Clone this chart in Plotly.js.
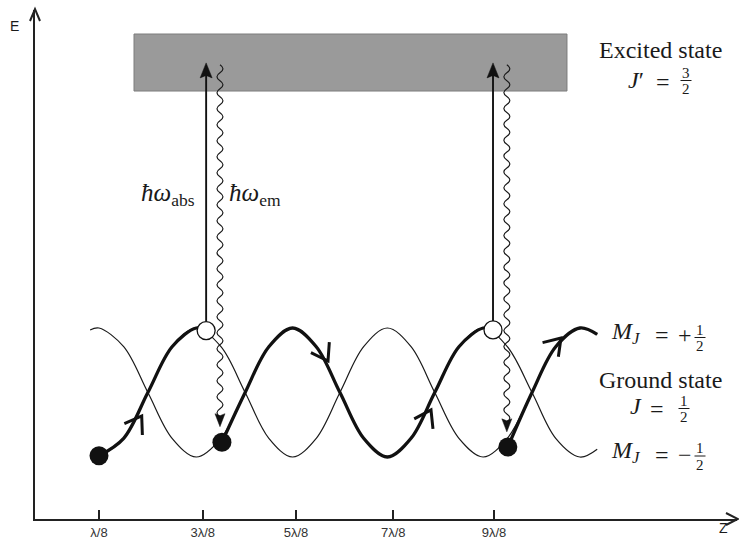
<!DOCTYPE html>
<html><head><meta charset="utf-8">
<script src="https://cdn.plot.ly/plotly-3.0.1.min.js"></script>
<style>html,body{margin:0;padding:0;background:#fff}</style>
</head><body><div id="chart" style="width:739px;height:541px"></div>
<script>
// ---- data (z in units of λ/8, energy in units of the light-shift amplitude) ----
const curveZ  = [0.82, 1.0, 1.5, 1.99, 2.48, 2.97, 3.47, 3.96, 4.44, 4.92, 5.4, 5.88, 6.36, 6.84, 7.32, 7.8, 8.29, 8.78, 9.27, 9.77, 10.25, 10.74, 11.09];
const plusE   = [null, -1, -0.71, 0, 0.71, 1, 0.71, 0, -0.71, -1, -0.71, 0, 0.71, 1, 0.71, 0, -0.71, -1, -0.71, 0, 0.71, 1, 0.9];
const minusE  = [0.97, 1, 0.71, 0, -0.71, -1, -0.71, 0, 0.71, 1, 0.71, 0, -0.71, -1, -0.71, 0, 0.71, 1, 0.71, 0, -0.71, -1, -0.88];
const groundDotZ = [1.0, 3.49, 9.28];
const groundDotE = [-0.98, -0.77, -0.845];
const pumpZ = [3.17, 8.98];
const pumpE = [0.96, 0.97];
const absTopE = 5.11;
const emZ = [3.45, 9.26];
const emTopE = 5.08;
const emTipE = [-0.53, -0.61];
const chevZ = [1.865, 5.638, 7.724, 10.357];
const chevE = [-0.364, 0.488, -0.271, 0.845];
const chevAngle = [58, -60, 62, 48];
const bandZ = [1.709, 10.478];
const bandE = [4.674, 5.558];
const tickZ = [1.0, 3.1, 4.99, 6.96, 9.0];
const tickText = ['λ/8', '3λ/8', '5λ/8', '7λ/8', '9λ/8'];

// ---- geometry of the plot area ----
const L = 35, T = 10, W = 702, H = 509;
const xRange = [-0.2962, 13.9215];
const yRange = [-1.9612, 5.9302];
const pxPerZ = W / (xRange[1] - xRange[0]);
const pxPerE = H / (yRange[1] - yRange[0]);
const dz = p => p / pxPerZ;
const dE = p => p / pxPerE;
const pX = x => (x - L) / W;
const pY = y => (T + H - y) / H;

function pts(E) {
  const z = [], e = [];
  curveZ.forEach((v, i) => { if (E[i] !== null) { z.push(v); e.push(E[i]); } });
  return {z, e};
}
function segment(E, z0, e0, z1, e1, includeEnd) {
  const z = [z0], e = [e0];
  curveZ.forEach((v, i) => {
    if (E[i] !== null && v > z0 && (v < z1 || (includeEnd && v <= z1))) { z.push(v); e.push(E[i]); }
  });
  if (!includeEnd) { z.push(z1); e.push(e1); }
  return {z, e};
}

const thinP = pts(plusE), thinM = pts(minusE);
const seg1 = segment(plusE, groundDotZ[0], groundDotE[0], pumpZ[0], pumpE[0], false);
const seg2 = segment(minusE, groundDotZ[1], groundDotE[1], pumpZ[1], pumpE[1], false);
const seg3 = segment(plusE, groundDotZ[2], groundDotE[2], curveZ[curveZ.length - 1], null, true);

// chevron arrow tips along the thick path
const chevX = [], chevY = [];
chevZ.forEach((z, i) => {
  const back = (chevAngle[i] + 180) * Math.PI / 180, spread = 34 * Math.PI / 180, len = 19;
  chevX.push(z + dz(len * Math.cos(back + spread)), z, z + dz(len * Math.cos(back - spread)), null);
  chevY.push(chevE[i] + dE(len * Math.sin(back + spread)), chevE[i], chevE[i] + dE(len * Math.sin(back - spread)), null);
});

// absorption lines (from top of open circle up to the arrow head)
const absX = [], absY = [];
pumpZ.forEach((z, i) => { absX.push(z, z, null); absY.push(pumpE[i] + dE(9), absTopE - dE(11), null); });

const thin = {width: 1.2, color: '#1a1a1a', shape: 'spline', smoothing: 1};
const thick = {width: 3.3, color: '#111', shape: 'spline', smoothing: 1};
const traces = [
  {x: thinP.z, y: thinP.e, mode: 'lines', line: thin},
  {x: thinM.z, y: thinM.e, mode: 'lines', line: thin},
  {x: seg1.z, y: seg1.e, mode: 'lines', line: thick},
  {x: seg2.z, y: seg2.e, mode: 'lines', line: thick},
  {x: seg3.z, y: seg3.e, mode: 'lines', line: thick},
  {x: chevX, y: chevY, mode: 'lines', line: {width: 3, color: '#111'}, connectgaps: false},
  {x: absX, y: absY, mode: 'lines', line: {width: 1.9, color: '#111'}, connectgaps: false},
  {x: groundDotZ, y: groundDotE, mode: 'markers', marker: {size: 19, color: '#111', line: {width: 0}}},
  {x: pumpZ, y: pumpE, mode: 'markers', marker: {size: 18, color: '#fff', line: {width: 1.3, color: '#111'}}}
];

// wavy emission lines
function wavyPath(z, eTop, eEnd) {
  const halfWave = dE(8);
  const ctrl = dz(6);
  const n = Math.max(1, Math.round((eTop - eEnd) / halfWave));
  const step = (eTop - eEnd) / n;
  let d = 'M' + z + ',' + eTop;
  for (let i = 0; i < n; i++) {
    const s = i % 2 === 0 ? 1 : -1;
    const e0 = eTop - i * step;
    d += ' Q' + (z + s * ctrl) + ',' + (e0 - step / 2) + ' ' + z + ',' + (e0 - step);
  }
  return d;
}
// filled arrow head: tip at (z,e), dir = +1 up, -1 down; sizes in px
function head(z, e, dir, w, len, notch) {
  return 'M' + z + ',' + e +
    ' L' + (z - dz(w / 2)) + ',' + (e - dir * dE(len)) +
    ' L' + z + ',' + (e - dir * dE(len - notch)) +
    ' L' + (z + dz(w / 2)) + ',' + (e - dir * dE(len)) + ' Z';
}
const shapes = [
  {type: 'rect', xref: 'x', yref: 'y', x0: bandZ[0], x1: bandZ[1], y0: bandE[0], y1: bandE[1],
   fillcolor: '#9a9a9a', line: {color: '#7c7c7c', width: 1}, layer: 'below'}
];
emZ.forEach((z, i) => {
  shapes.push({type: 'path', xref: 'x', yref: 'y', path: wavyPath(z, emTopE, emTipE[i] + dE(10)),
    line: {color: '#1a1a1a', width: 1.2}, layer: 'above'});
  shapes.push({type: 'path', xref: 'x', yref: 'y', path: head(z, emTipE[i], -1, 10, 13, 2),
    fillcolor: '#111', line: {color: '#111', width: 0.5}, layer: 'above'});
});
pumpZ.forEach(z => shapes.push({type: 'path', xref: 'x', yref: 'y', path: head(z, absTopE, 1, 12, 15, 2.5),
  fillcolor: '#111', line: {color: '#111', width: 0.5}, layer: 'above'}));
// axis arrow heads (open chevrons)
shapes.push({type: 'path', xref: 'paper', yref: 'paper',
  path: 'M' + pX(30) + ',' + pY(21) + ' L' + pX(35) + ',' + pY(9) + ' L' + pX(40) + ',' + pY(21),
  line: {color: '#222', width: 2}});
shapes.push({type: 'path', xref: 'paper', yref: 'paper',
  path: 'M' + pX(726) + ',' + pY(513) + ' L' + pX(738) + ',' + pY(519) + ' L' + pX(726) + ',' + pY(525),
  line: {color: '#222', width: 2}});

const annotations = [];
const serif = 'Liberation Serif, Times New Roman, serif';
const sans = 'Liberation Sans, Arial, sans-serif';
function label(text, x, y, size, xanchor, family) {
  annotations.push({xref: 'paper', yref: 'paper', x: pX(x), y: pY(y), text: text, showarrow: false,
    xanchor: xanchor || 'center', yanchor: 'middle', font: {family: family || serif, size: size, color: '#1a1a1a'}});
}
function frac(num, den, x, yBar) {
  label(num, x, yBar - 8, 15);
  label(den, x, yBar + 8.5, 15);
  shapes.push({type: 'line', xref: 'paper', yref: 'paper', x0: pX(x - 5.5), x1: pX(x + 5.5), y0: pY(yBar), y1: pY(yBar),
    line: {color: '#1a1a1a', width: 1}});
}

label('E', 14, 26, 14, 'center', sans);
label('Z', 723, 528, 14, 'center', sans);
label('Excited state', 660, 50, 24);
label('<i>J</i>′', 636, 80, 24);
label('=', 663, 82, 24);
frac('3', '2', 686, 80.5);
label('<i>ħω</i><sub>abs</sub>', 139, 194, 25, 'left');
label('<i>ħω</i><sub>em</sub>', 227, 194, 25, 'left');
label('<i>M</i><sub><i>J</i></sub>', 609, 333, 24, 'left');
label('=', 662, 335, 24);
label('+', 685, 335, 24);
frac('1', '2', 700, 337.5);
label('Ground state', 660, 380, 24);
label('<i>J</i>', 636, 406, 24);
label('=', 657, 409, 24);
frac('1', '2', 684, 408.5);
label('<i>M</i><sub><i>J</i></sub>', 609, 452, 24, 'left');
label('=', 662, 455, 24);
label('−', 685, 455, 24);
frac('1', '2', 700, 456);

const layout = {
  width: 739, height: 541,
  margin: {l: L, r: 739 - L - W, t: T, b: 541 - T - H, pad: 0},
  paper_bgcolor: '#fff', plot_bgcolor: '#fff', showlegend: false,
  xaxis: {range: xRange, showgrid: false, zeroline: false, showline: true, linecolor: '#222', linewidth: 2,
    tickmode: 'array', tickvals: tickZ, ticktext: tickText, ticks: 'inside', ticklen: 9, tickwidth: 2, tickcolor: '#222',
    tickfont: {family: sans, size: 13, color: '#333'}},
  yaxis: {range: yRange, showgrid: false, zeroline: false, showline: true, linecolor: '#222', linewidth: 2,
    showticklabels: false, ticks: ''},
  shapes: shapes, annotations: annotations
};
Plotly.newPlot('chart', traces, layout, {staticPlot: true, displayModeBar: false});
</script></body></html>
